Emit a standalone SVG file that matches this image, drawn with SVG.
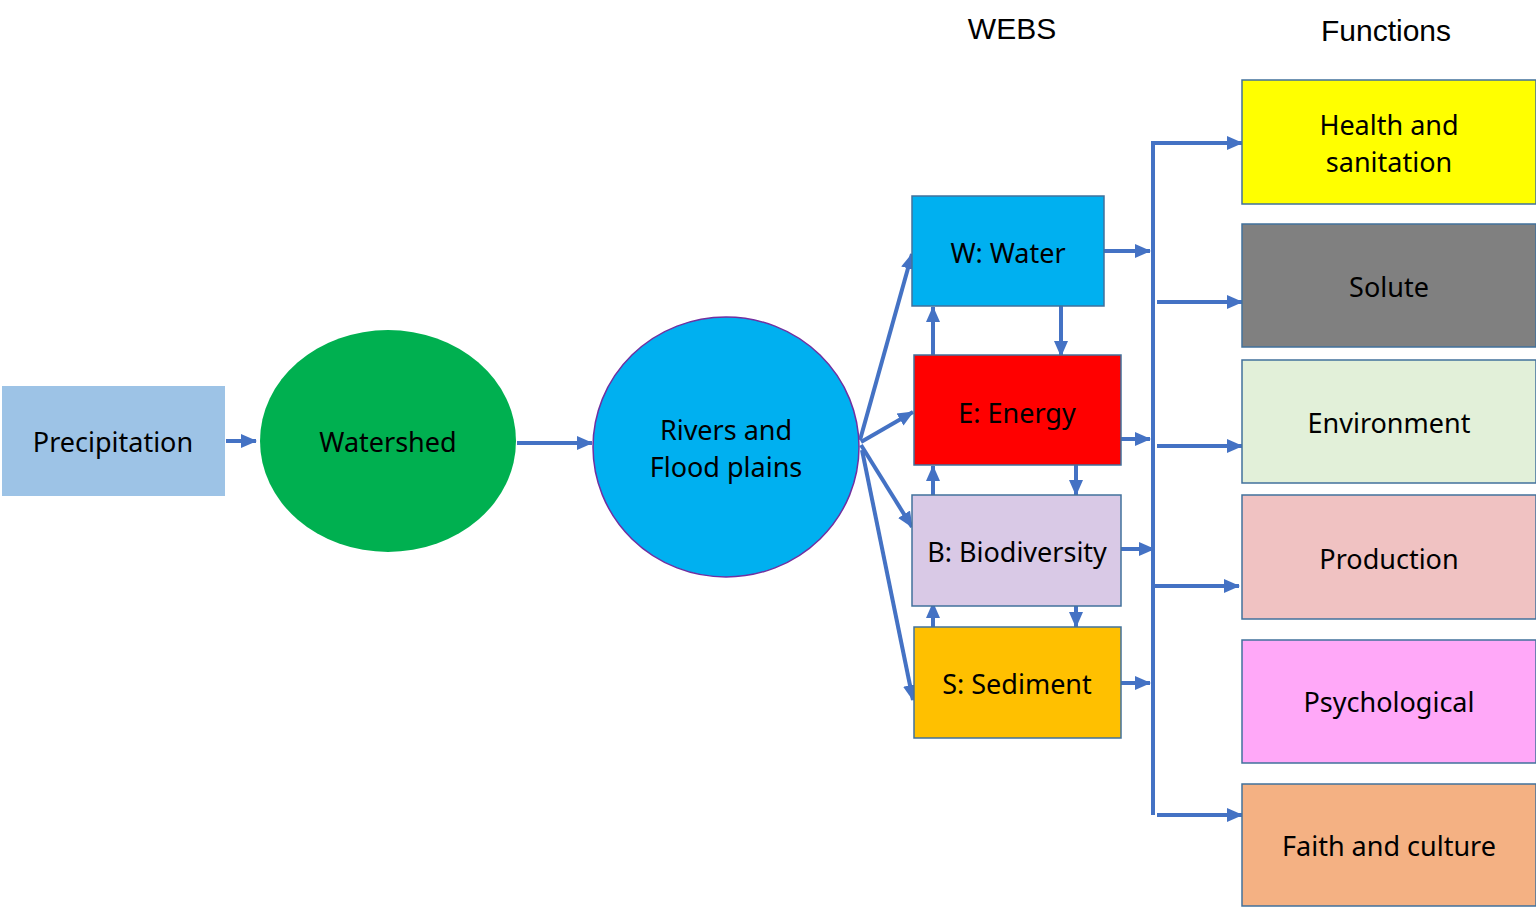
<svg xmlns="http://www.w3.org/2000/svg" width="1536" height="907" viewBox="0 0 1536 907">
<style>
.t{font-family:"Noto Sans","Open Sans",sans-serif;font-size:27px;fill:#000;text-anchor:middle;dominant-baseline:central}
.h{font-family:"Liberation Sans",Arial,sans-serif;font-size:30px;fill:#000;text-anchor:middle}
.box{stroke:#41719C;stroke-width:1.5}
.c{stroke:#4472C4;stroke-width:4;fill:none}
.a{marker-end:url(#ah)}
</style>
<defs>
<marker id="ah" markerUnits="userSpaceOnUse" markerWidth="16" markerHeight="16" viewBox="0 0 16 16" refX="15" refY="8" orient="auto">
<path d="M0,1 L16,8 L0,15 Z" fill="#4472C4"/>
</marker>
</defs>
<rect width="1536" height="907" fill="#fff"/>
<text class="h" x="1012" y="39">WEBS</text>
<text class="h" x="1386" y="41">Functions</text>
<g id="connectors">
<line class="c a" x1="226" y1="441" x2="256" y2="441"/>
<line class="c a" x1="517" y1="443" x2="592" y2="443"/>
<line class="c a" x1="860" y1="440" x2="912" y2="254"/>
<line class="c a" x1="861" y1="442" x2="913" y2="412"/>
<line class="c a" x1="861" y1="445" x2="912" y2="527"/>
<line class="c a" x1="862" y1="450" x2="913" y2="700"/>
<line class="c a" x1="933" y1="355" x2="933" y2="307"/>
<line class="c a" x1="1061" y1="306" x2="1061" y2="356"/>
<line class="c a" x1="933" y1="495" x2="933" y2="466"/>
<line class="c a" x1="1076" y1="461" x2="1076" y2="495"/>
<line class="c a" x1="933" y1="627" x2="933" y2="603"/>
<line class="c a" x1="1076" y1="606" x2="1076" y2="627"/>
<line class="c a" x1="1104" y1="251" x2="1150" y2="251"/>
<line class="c a" x1="1121" y1="439" x2="1150" y2="439"/>
<line class="c a" x1="1121" y1="549" x2="1154" y2="549"/>
<line class="c a" x1="1121" y1="683" x2="1150" y2="683"/>
<polyline class="c a" points="1153,815 1153,143 1242,143"/>
<line class="c a" x1="1157" y1="302" x2="1242" y2="302"/>
<line class="c a" x1="1157" y1="446" x2="1242" y2="446"/>
<line class="c a" x1="1153" y1="586" x2="1239" y2="586"/>
<line class="c a" x1="1157" y1="815" x2="1242" y2="815"/>
</g>
<g id="precipitation">
<rect x="2" y="386" width="223" height="110" fill="#9DC3E6"/>
<text class="t" x="113" y="441">Precipitation</text>
</g>
<g id="watershed">
<ellipse cx="388" cy="441" rx="128" ry="111" fill="#00B050"/>
<text class="t" x="388" y="441">Watershed</text>
</g>
<g id="rivers">
<ellipse cx="726" cy="447" rx="133" ry="130" fill="#00B0F0" stroke="#7030A0" stroke-width="1.5"/>
<text class="t" x="726" y="429">Rivers and</text>
<text class="t" x="726" y="466">Flood plains</text>
</g>
<g id="water">
<rect class="box" x="912" y="196" width="192" height="110" fill="#00B0F0"/>
<text class="t" x="1008" y="252">W: Water</text>
</g>
<g id="energy">
<rect class="box" x="914" y="355" width="207" height="110" fill="#FF0000"/>
<text class="t" x="1017" y="412">E: Energy</text>
</g>
<g id="biodiversity">
<rect class="box" x="912" y="495" width="209" height="111" fill="#D9C9E6"/>
<text class="t" x="1017" y="551">B: Biodiversity</text>
</g>
<g id="sediment">
<rect class="box" x="914" y="627" width="207" height="111" fill="#FFC000"/>
<text class="t" x="1017" y="683">S: Sediment</text>
</g>
<g id="health">
<rect class="box" x="1242" y="80" width="294" height="124" fill="#FFFF00"/>
<text class="t" x="1389" y="124">Health and</text>
<text class="t" x="1389" y="161">sanitation</text>
</g>
<g id="solute">
<rect class="box" x="1242" y="224" width="294" height="123" fill="#808080"/>
<text class="t" x="1389" y="286">Solute</text>
</g>
<g id="environment">
<rect class="box" x="1242" y="360" width="294" height="123" fill="#E2F0D9"/>
<text class="t" x="1389" y="422">Environment</text>
</g>
<g id="production">
<rect class="box" x="1242" y="495" width="294" height="124" fill="#F0C2C2"/>
<text class="t" x="1389" y="558">Production</text>
</g>
<g id="psychological">
<rect class="box" x="1242" y="640" width="294" height="123" fill="#FFA8F8"/>
<text class="t" x="1389" y="701">Psychological</text>
</g>
<g id="faith">
<rect class="box" x="1242" y="784" width="294" height="122" fill="#F4B183"/>
<text class="t" x="1389" y="845">Faith and culture</text>
</g>
</svg>
